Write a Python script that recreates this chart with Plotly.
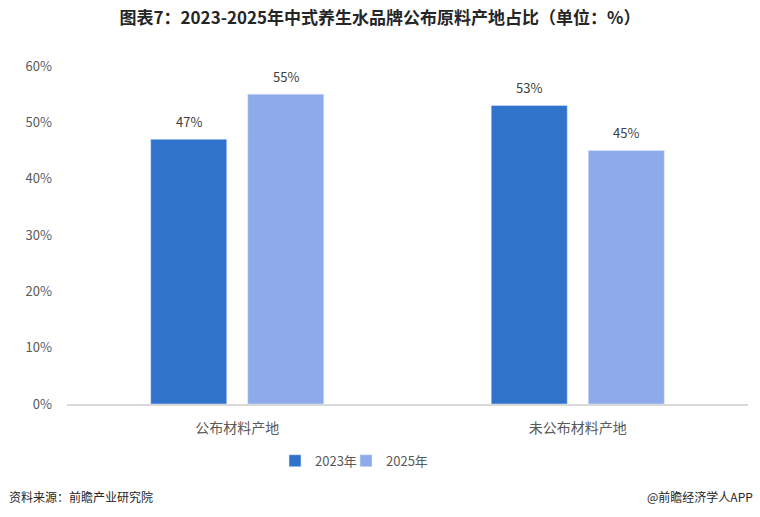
import plotly.graph_objects as go

categories = ["公布材料产地", "未公布材料产地"]
series_names = ["2023年", "2025年"]
values_2023 = [0.47, 0.53]
values_2025 = [0.55, 0.45]
tick_vals = [0, 0.1, 0.2, 0.3, 0.4, 0.5, 0.6]
tick_text = ["0%", "10%", "20%", "30%", "40%", "50%", "60%"]

colors = ["#3073CC", "#8DAAEA"]
font_family = "Noto Sans CJK SC, Noto Sans, sans-serif"

fig = go.Figure()
for name, vals, c in zip(series_names, [values_2023, values_2025], colors):
    fig.add_trace(go.Bar(x=categories, y=vals, name=name, marker_color=c))

# invisible spacer entry so the last legend label is not clipped
fig.add_trace(go.Scatter(x=[categories[0]], y=[None], name=" ", mode="markers",
                         marker=dict(color="rgba(0,0,0,0)", size=1, line=dict(width=0)),
                         hoverinfo="skip", showlegend=True))

# data labels above bars
for vals, shift in zip([values_2023, values_2025], [-48.5, 48.5]):
    for cat, v in zip(categories, vals):
        fig.add_annotation(x=cat, y=v, text=f"{round(v*100)}%", showarrow=False,
                           xshift=shift, yshift=18, yanchor="middle",
                           font=dict(size=13, color="#404040", family=font_family))

fig.update_layout(
    width=760, height=517,
    margin=dict(l=67, r=12, t=66, b=113),
    paper_bgcolor="white", plot_bgcolor="white",
    barmode="group", bargap=0.43, bargroupgap=0.2165,
    font=dict(family=font_family, color="#595959"),
    title=dict(text="<b>图表7：2023-2025年中式养生水品牌公布原料产地占比（单位：%）</b>",
               x=0.5, xanchor="center", y=0.965, yanchor="middle",
               font=dict(size=17, color="#262626", family=font_family)),
    xaxis=dict(showline=True, linecolor="#D9D9D9", linewidth=1.5, ticks="",
               tickfont=dict(size=14, color="#595959"), showgrid=False,
               ticklabelstandoff=10),
    yaxis=dict(range=[0, 0.6], tickvals=tick_vals, ticktext=tick_text,
               showgrid=False, zeroline=False, showline=False,
               tickfont=dict(size=13, color="#595959"), ticklabelstandoff=14),
    legend=dict(orientation="h", x=(275-67)/681, xanchor="left", y=-0.168, yanchor="middle",
                font=dict(size=13, color="#595959"), itemwidth=30, traceorder="normal",
                entrywidth=26, entrywidthmode="pixels"),
    showlegend=True,
)

fig.add_annotation(text="资料来源：前瞻产业研究院", xref="paper", yref="paper",
                   x=-60/681, y=-92/338, xanchor="left", yanchor="middle", showarrow=False,
                   font=dict(size=12, color="#262626"))
fig.add_annotation(text="@前瞻经济学人APP", xref="paper", yref="paper",
                   x=(755-67)/681, y=-92/338, xanchor="right", yanchor="middle", showarrow=False,
                   font=dict(size=12, color="#262626"))

fig.write_html("out.html")
